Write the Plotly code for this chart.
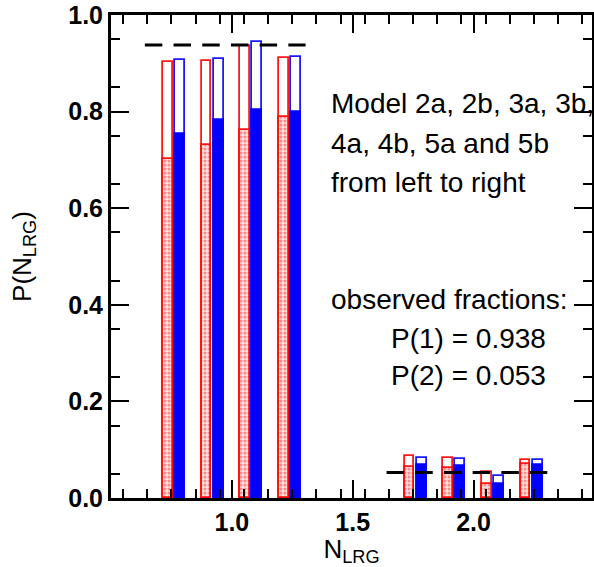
import numpy as np
import plotly.graph_objects as go

# ---- data ----
n_lrg = [1, 2]                       # categories (N_LRG)
models = ["2", "3", "4", "5"]        # model pairs (a = red, b = blue)
# total height (outline) and lower part (filled) for each model, for N=1 and N=2
a_total = {1: [0.903, 0.904, 0.936, 0.912], 2: [0.086, 0.083, 0.053, 0.079]}
a_lower = {1: [0.702, 0.730, 0.762, 0.789], 2: [0.065, 0.063, 0.030, 0.071]}
b_total = {1: [0.907, 0.908, 0.945, 0.913], 2: [0.082, 0.080, 0.046, 0.079]}
b_lower = {1: [0.754, 0.782, 0.804, 0.800], 2: [0.068, 0.067, 0.030, 0.068]}
observed = [0.938, 0.053]
y_ticks = [0.0, 0.2, 0.4, 0.6, 0.8, 1.0]
x_ticks = [1.0, 1.5, 2.0]

# ---- layout constants ----
pair_offsets = [-0.24, -0.08, 0.08, 0.24]
half_gap = 0.025
bar_w = 0.041
FONT = "Liberation Sans, Arial, sans-serif"
X_RANGE = [0.5, 2.49]
Y_RANGE = [0, 1]

fig = go.Figure()

xa, xb, ya_t, ya_l, yb_t, yb_l = [], [], [], [], [], []
for n in n_lrg:
    for i, off in enumerate(pair_offsets):
        xa.append(n + off - half_gap)
        xb.append(n + off + half_gap)
        ya_t.append(a_total[n][i]); ya_l.append(a_lower[n][i])
        yb_t.append(b_total[n][i]); yb_l.append(b_lower[n][i])

# outline bars (white fill)
fig.add_trace(go.Bar(x=xa, y=ya_t, width=bar_w, marker=dict(color="white",
                     line=dict(color="rgba(255,0,0,0.9)", width=1.8))))
fig.add_trace(go.Bar(x=xb, y=yb_t, width=bar_w, marker=dict(color="white",
                     line=dict(color="rgba(0,0,255,0.9)", width=1.8))))
# filled lower parts
fig.add_trace(go.Bar(x=xa, y=ya_l, width=bar_w, marker=dict(
    color="#ffd6d6",
    line=dict(color="rgba(255,0,0,0.9)", width=1.8),
    pattern=dict(shape=".", fgcolor="#ff3030", bgcolor="#ffe0e0", size=4, solidity=0.45))))
fig.add_trace(go.Bar(x=xb, y=yb_l, width=bar_w, marker=dict(
    color="blue", line=dict(color="blue", width=1.8))))

# observed fraction dashed lines
for n, obs in zip(n_lrg, observed):
    fig.add_trace(go.Scatter(x=[n - 0.36, n + 0.305], y=[obs, obs], mode="lines",
                             line=dict(color="black", width=3, dash="17.5px,11.2px")))

# ---- annotations ----
txt = dict(showarrow=False, font=dict(family=FONT, size=28, color="black"),
           xref="x", yref="y", xanchor="left", yanchor="middle")
fig.add_annotation(x=1.400, y=0.816, text="Model 2a, 2b, 3a, 3b,", **txt)
fig.add_annotation(x=1.400, y=0.735, text="4a, 4b, 5a and 5b", **txt)
fig.add_annotation(x=1.400, y=0.653, text="from left to right", **txt)
fig.add_annotation(x=1.400, y=0.410, text="observed fractions:", **txt)
fig.add_annotation(x=1.650, y=0.331, text=f"P(1) = {observed[0]:.3f}", **txt)
fig.add_annotation(x=1.650, y=0.253, text=f"P(2) = {observed[1]:.3f}", **txt)

# ---- axes ----
x_long = [v for v in np.round(np.arange(0.5, 2.49, 0.1), 2) if v not in x_ticks]
x_short = list(np.round(np.arange(0.55, 2.49, 0.1), 2))
y_long = [v for v in np.round(np.arange(0.1, 1.0, 0.2), 2)]
y_short = list(np.round(np.arange(0.05, 1.0, 0.1), 2))

tick_style = dict(ticks="inside", ticklen=18, tickwidth=1.5, tickcolor="black",
                  showgrid=False, zeroline=False)
lbl_font = dict(family=FONT, size=25, color="black")

fig.update_layout(
    xaxis=dict(range=X_RANGE, tickmode="array", tickvals=x_ticks,
               ticktext=[f"<b>{v:.1f}</b>" for v in x_ticks], tickfont=lbl_font,
               ticklabeloverflow="allow",
               showline=True, linewidth=3, linecolor="black", mirror="ticks",
               minor=dict(tickmode="array", tickvals=x_short, ticks="inside", ticklen=9,
                          tickwidth=1.5, tickcolor="black", showgrid=False),
               title=dict(text="N<sub>LRG</sub>", font=dict(family=FONT, size=26, color="black"),
                          standoff=11),
               **tick_style),
    yaxis=dict(range=Y_RANGE, tickmode="array", tickvals=y_ticks,
               ticktext=[f"<b>{v:.1f}</b>" for v in y_ticks], tickfont=lbl_font,
               ticklabeloverflow="allow",
               showline=True, linewidth=3, linecolor="black", mirror="ticks",
               minor=dict(tickmode="array", tickvals=y_short, ticks="inside", ticklen=9,
                          tickwidth=1.5, tickcolor="black", showgrid=False),
               title=dict(text="P(N<sub>LRG</sub>)", font=dict(family=FONT, size=26, color="black"),
                          standoff=30),
               **tick_style),
    # extra long unlabeled ticks
    xaxis2=dict(range=X_RANGE, overlaying="x", matches="x", anchor="y", tickmode="array",
                tickvals=x_long, showticklabels=False, mirror="ticks", showline=False,
                **tick_style),
    yaxis2=dict(range=Y_RANGE, overlaying="y", matches="y", anchor="x", tickmode="array",
                tickvals=y_long, showticklabels=False, mirror="ticks", showline=False,
                **tick_style),
)

fig.update_layout(width=594, height=567, barmode="overlay", showlegend=False,
                  plot_bgcolor="white", paper_bgcolor="white",
                  margin=dict(l=111, r=2, t=15, b=69, autoexpand=False),
                  bargap=0)

fig.write_html("out.html", config={"displayModeBar": False},
               post_script="document.body.style.margin='0px';")
